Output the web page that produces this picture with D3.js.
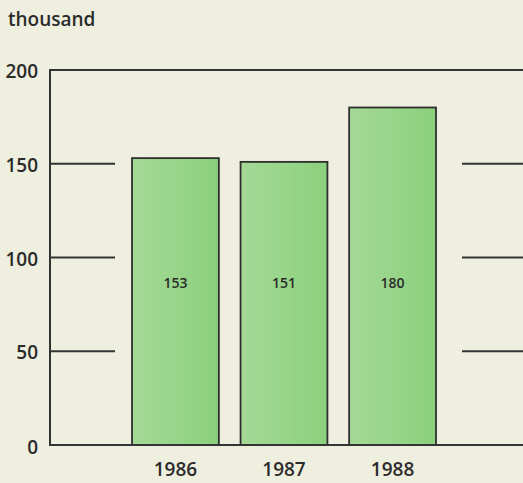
<!DOCTYPE html>
<html>
<head>
<meta charset="utf-8">
<script src="https://cdn.jsdelivr.net/npm/d3@7"></script>
<style>
  body { margin: 0; background: #efefe0; }
  svg { display: block; font-family: "Open Sans", sans-serif; }
</style>
</head>
<body>
<div id="chart"></div>
<script>
var years = ["1986", "1987", "1988"];
var values = [153, 151, 180];
var yTicks = [0, 50, 100, 150, 200];

var width = 523, height = 483;

var svg = d3.select("#chart").append("svg")
    .attr("width", width)
    .attr("height", height);

var y = d3.scaleLinear().domain([0, 200]).range([445, 70]);
var x = d3.scaleBand().domain(years).range([132, 436]).paddingInner(0.2).paddingOuter(0);

var grad = svg.append("defs").append("linearGradient")
    .attr("id", "barGrad")
    .attr("x1", "0").attr("x2", "1").attr("y1", "0").attr("y2", "0");
grad.append("stop").attr("offset", "0").attr("stop-color", "#a4d996");
grad.append("stop").attr("offset", "0.5").attr("stop-color", "#98d58a");
grad.append("stop").attr("offset", "1").attr("stop-color", "#8ad07c");

// unit label
svg.append("text")
    .attr("x", 8).attr("y", 26)
    .style("font-size", "19px").style("font-weight", 600)
    .style("fill", "#2b2b2b")
    .text("thousand");

// gridline stubs
var grid = svg.append("g").attr("stroke", "#333").attr("stroke-width", 2);
yTicks.filter(function(d){ return d > 0 && d < 200; }).forEach(function(d) {
  grid.append("line").attr("x1", 50).attr("x2", 115).attr("y1", y(d)).attr("y2", y(d));
  grid.append("line").attr("x1", 462).attr("x2", width).attr("y1", y(d)).attr("y2", y(d));
});
// top line
grid.append("line").attr("x1", 50).attr("x2", width).attr("y1", y(200)).attr("y2", y(200));

// bars
svg.selectAll(".bar")
  .data(values)
  .enter().append("rect")
    .attr("class", "bar")
    .attr("x", function(d, i) { return x(years[i]); })
    .attr("y", function(d) { return y(d); })
    .attr("width", x.bandwidth())
    .attr("height", function(d) { return y(0) - y(d); })
    .attr("fill", "url(#barGrad)")
    .attr("stroke", "#2e2e2e")
    .attr("stroke-width", 1.8);

// value labels
svg.selectAll(".val")
  .data(values)
  .enter().append("text")
    .attr("class", "val")
    .attr("x", function(d, i) { return x(years[i]) + x.bandwidth() / 2; })
    .attr("y", y(84))
    .attr("text-anchor", "middle")
    .style("font-size", "14px").style("font-weight", 600)
    .style("fill", "#2b2b2b")
    .text(function(d) { return d; });

// axis lines
var axis = svg.append("g").attr("stroke", "#333").attr("stroke-width", 2);
axis.append("line").attr("x1", 50).attr("x2", 50).attr("y1", y(200) - 1).attr("y2", y(0) + 1);
axis.append("line").attr("x1", 49).attr("x2", width).attr("y1", y(0)).attr("y2", y(0));

// y tick labels
svg.selectAll(".ylab")
  .data(yTicks)
  .enter().append("text")
    .attr("class", "ylab")
    .attr("x", 38)
    .attr("y", function(d) { return y(d) + 8 + (d === 0 ? 1 : 0); })
    .attr("text-anchor", "end")
    .style("font-size", "19px").style("font-weight", 600)
    .style("fill", "#2b2b2b")
    .text(function(d) { return d; });

// x labels
svg.selectAll(".xlab")
  .data(years)
  .enter().append("text")
    .attr("class", "xlab")
    .attr("x", function(d) { return x(d) + x.bandwidth() / 2; })
    .attr("y", 476)
    .attr("text-anchor", "middle")
    .style("font-size", "19px").style("font-weight", 600)
    .style("fill", "#2b2b2b")
    .text(function(d) { return d; });
</script>
</body>
</html>
